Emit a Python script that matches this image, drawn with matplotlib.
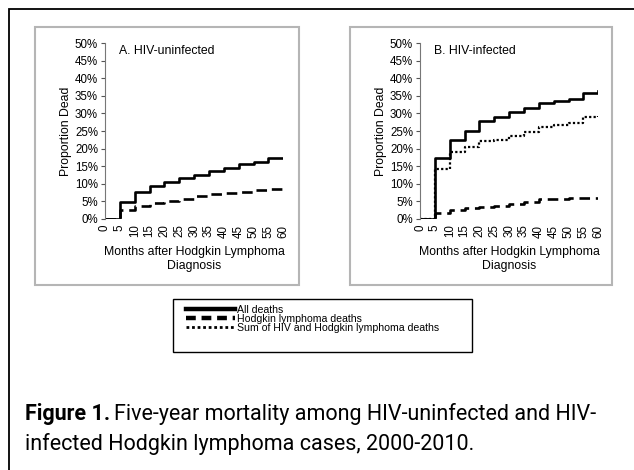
import matplotlib.pyplot as plt
from matplotlib.patches import Rectangle
from matplotlib.lines import Line2D
from matplotlib.ticker import PercentFormatter

# Dados (proporção de mortos, degraus a cada 5 meses)
meses = [0, 5, 10, 15, 20, 25, 30, 35, 40, 45, 50, 55, 60]
a_todas = [0.0, 4.9, 7.7, 9.3, 10.6, 11.7, 12.6, 13.6, 14.5, 15.5, 16.2, 17.2, 17.3]
a_hodgkin = [0.0, 2.5, 3.7, 4.6, 5.1, 5.8, 6.4, 7.0, 7.5, 7.8, 8.3, 8.6, 8.7]
b_todas = [0.0, 17.2, 22.4, 24.9, 27.7, 29.0, 30.3, 31.6, 33.0, 33.6, 34.2, 35.9, 36.5]
b_hodgkin = [0.0, 1.8, 2.5, 3.0, 3.5, 3.8, 4.4, 4.9, 5.7, 5.8, 5.9, 6.0, 6.0]
b_soma = [0.0, 14.2, 18.9, 20.4, 22.1, 22.4, 23.6, 24.7, 26.0, 26.6, 27.3, 28.9, 29.2]
ticks_x = list(range(0, 61, 5))

W, H = 634, 470
fonte = ['Liberation Sans', 'DejaVu Sans']
plt.rcParams['font.family'] = fonte

fig = plt.figure(figsize=(W / 100, H / 100), dpi=100)


def fx(px):
    return px / W


def fy(py):
    return 1 - py / H


# moldura externa (só aparecem as bordas de cima e da esquerda)
fig.patches.append(Rectangle((fx(8.5), -0.2), 1.5, fy(9) + 0.2, transform=fig.transFigure,
                             fill=False, edgecolor='black', lw=1.3))
# caixas cinzas dos painéis
for x0, x1 in [(35, 299), (350, 612)]:
    fig.patches.append(Rectangle((fx(x0), fy(285)), fx(x1 - x0), (285 - 27) / H,
                                 transform=fig.transFigure, fill=False,
                                 edgecolor='#b5b5b5', lw=1.5))


def painel(left_px, titulo, series):
    ax = fig.add_axes([fx(left_px), fy(219), fx(178.3), (219 - 43) / H])
    for valores, estilo in series:
        ax.step(meses, [v / 100 for v in valores], where='post', color='black', **estilo)
    ax.set_xlim(0, 60)
    ax.set_ylim(0, 0.5)
    ax.set_yticks([i / 100 for i in range(0, 51, 5)])
    ax.yaxis.set_major_formatter(PercentFormatter(1.0, decimals=0))
    ax.set_xticks(ticks_x)
    ax.set_xticklabels([str(t) for t in ticks_x], rotation=90)
    ax.tick_params(axis='x', length=0, labelsize=8.3, pad=4)
    ax.tick_params(axis='y', length=3, width=0.8, labelsize=8.3, pad=2, color='#555555')
    for s in ['top', 'right', 'bottom']:
        ax.spines[s].set_visible(False)
    ax.spines['left'].set_color('#777777')
    ax.spines['left'].set_linewidth(0.8)
    ax.set_ylabel('Proportion Dead', fontsize=8.8, labelpad=2)
    ax.set_xlabel('Months after Hodgkin Lymphoma\nDiagnosis', fontsize=8.8, labelpad=6)
    ax.text(0.08, 0.99, titulo, transform=ax.transAxes, fontsize=8.8, va='top', ha='left')
    ax.patch.set_alpha(0)
    return ax


solido = dict(lw=1.9, linestyle='-')
tracejado = dict(lw=1.9, linestyle=(0, (4, 2.2)))
pontilhado = dict(lw=1.6, linestyle=(0, (1, 1)))

painel(105, 'A. HIV-uninfected', [(a_hodgkin, tracejado), (a_todas, solido)])
painel(420, 'B. HIV-infected', [(b_soma, pontilhado), (b_hodgkin, tracejado), (b_todas, solido)])

# legenda
fig.patches.append(Rectangle((fx(173), fy(352)), fx(299), 53 / H, transform=fig.transFigure,
                             fill=False, edgecolor='black', lw=1.0))
handles = [Line2D([], [], color='black', lw=3.2, linestyle='-'),
           Line2D([], [], color='black', lw=3.2, linestyle=(0, (2.2, 1.3))),
           Line2D([], [], color='black', lw=2.0, linestyle=(0, (1, 1)))]
labels = ['All deaths', 'Hodgkin lymphoma deaths', 'Sum of HIV and Hodgkin lymphoma deaths']
fig.legend(handles, labels, loc='upper left', bbox_to_anchor=(fx(186), fy(305)),
           frameon=False, fontsize=7.6, handlelength=4.6, handletextpad=0.2,
           labelspacing=-0.1, borderpad=0, borderaxespad=0)

# legenda da figura
fonte_leg = ['Roboto', 'DejaVu Sans']
t1 = fig.text(fx(25), fy(420), 'Figure 1.', fontsize=15.5, fontweight='bold',
              family=fonte_leg, va='baseline')
fig.canvas.draw()
bb = t1.get_window_extent()
fig.text(fx(bb.x1 + 4), fy(420), 'Five-year mortality among HIV-uninfected and HIV-',
         fontsize=15.5, family=fonte_leg, va='baseline')
fig.text(fx(25), fy(450), 'infected Hodgkin lymphoma cases, 2000-2010.',
         fontsize=15.5, family=fonte_leg, va='baseline')

plt.savefig('out.png', dpi=100)
